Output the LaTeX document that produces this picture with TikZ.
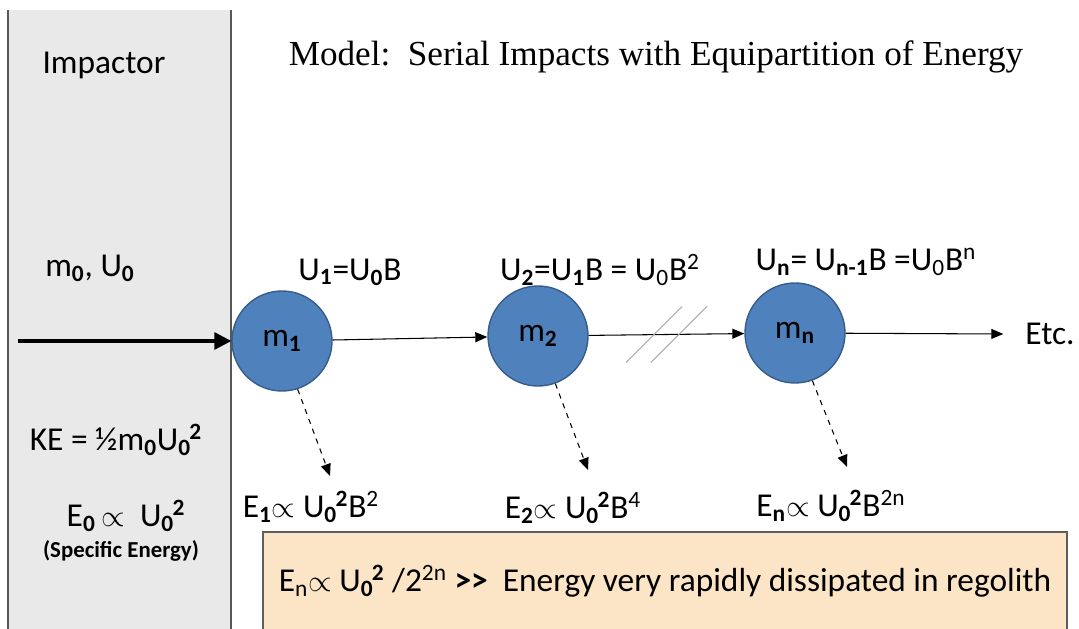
\documentclass[tikz,border=0pt]{standalone}
\usepackage{fontspec}
\setmainfont{Carlito}
\newfontfamily\titlefont{Liberation Serif}
\usepackage{tikz}
\usetikzlibrary{arrows.meta, positioning}
\definecolor{panelGray}{HTML}{E9E9E9}
\definecolor{panelEdge}{HTML}{585858}
\definecolor{ballBlue}{HTML}{4F81BD}
\definecolor{ballEdge}{HTML}{385D8A}
\definecolor{boxFill}{HTML}{FBE5C6}
\definecolor{boxEdge}{HTML}{5E5E5E}
% subscript followed by a superscript
\newcommand{\ud}[2]{\textsubscript{#1}\kern-0.05em\textsuperscript{#2}}

\begin{document}
\begin{tikzpicture}[
  x=0.2mm, y={(0,-0.2mm)},
  font=\fontsize{19}{23}\selectfont,
  ball/.style={circle, draw=ballEdge, fill=ballBlue, thick, minimum size=20mm, inner sep=0pt},
  tag/.style={inner sep=1pt},
  sum/.style={draw=boxEdge, fill=boxFill, thick, minimum width=160.8mm, minimum height=21.6mm},
  a/.style={-{Triangle[length=2.4mm, width=2mm]}, semithick},
  af/.style={-{Triangle[length=2.4mm, width=2mm]}, dashed, semithick},
  push/.style={-{Triangle[length=3.4mm, width=3.4mm]}, line width=1.8pt},
  cut/.style={draw=gray!65, semithick}
]
\useasboundingbox (0,0) rectangle (1079,629);

% impactor panel
\fill[panelGray] (8,10) rectangle (231,640);
\draw[panelEdge, thick] (8,10) -- (8,640) (231,10) -- (231,640);

\node[tag, font=\titlefont\fontsize{20}{24}\selectfont] (title) at (656,57)
  {Model:\ \ Serial Impacts with Equipartition of Energy};

\node[tag] (imp) at (104,65) {Impactor};
\node[tag] (m0) at (90,268) {m\textsubscript{\textbf{0}}, U\textsubscript{\textbf{0}}};
\node[tag] (ke) at (116,440) {KE = ½m\textsubscript{\textbf{0}}U\ud{\textbf{0}}{\textbf{2}}};
\node[tag] (e0) at (126,516) {E\textsubscript{\textbf{0}}\,$\propto$\ \ U\ud{\textbf{0}}{\textbf{2}}};
\node[tag, font=\fontsize{13}{15}\selectfont\bfseries] (spec) at (121,551) {(Specific Energy)};

% summary
\node[sum] (dissip) at (665,586)
  {\raisebox{3mm}{E\textsubscript{n}$\propto$ U\ud{\textbf{0}}{\textbf{2}} /2\textsuperscript{2n} \textbf{>{}>}\ \ Energy very rapidly dissipated in regolith}};

% impacted masses
\node[ball] (m1) at (282,341) {m\textsubscript{\textbf{1}}};
\node[ball] (m2) at (538,336) {m\textsubscript{\textbf{2}}};
\node[ball] (mn) at (795,333) {m\textsubscript{\textbf{n}}};
\node[tag] (etc) at (1050,334) {Etc.};

\node[tag] (u1) at (350,272) {U\textsubscript{\textbf{1}}=U\textsubscript{\textbf{0}}B};
\node[tag] (u2) at (600,270) {U\textsubscript{\textbf{2}}=U\textsubscript{\textbf{1}}B = U\textsubscript{0}B\textsuperscript{2}};
\node[tag] (un) at (866,262) {U\textsubscript{\textbf{n}}= U\textsubscript{\textbf{n-1}}B =U\textsubscript{0}B\textsuperscript{n}};

\node[tag] (e1) at (311,507) {E\textsubscript{\textbf{1}}$\propto$ U\ud{\textbf{0}}{\textbf{2}}B\textsuperscript{2}};
\node[tag] (e2) at (573,508) {E\textsubscript{\textbf{2}}$\propto$ U\ud{\textbf{0}}{\textbf{2}}B\textsuperscript{4}};
\node[tag] (en) at (831,506) {E\textsubscript{\textbf{n}}$\propto$ U\ud{\textbf{0}}{\textbf{2}}B\textsuperscript{2n}};

\coordinate (start) at (18,341);
\coordinate (t1) at (330,476);
\coordinate (t2) at (588,470);
\coordinate (tn) at (847,467);

\draw[push] (start) -- (m1.west);
\draw[a] (m1) -- (m2);
\draw[a] (m2) -- (mn) coordinate[pos=0.42] (cut1) coordinate[pos=0.58] (cut2);
\draw[a] (mn) -- ([xshift=-4mm]etc.west);
\draw[cut] ([shift={(-28,28)}]cut1) -- ([shift={(28,-28)}]cut1);
\draw[cut] ([shift={(-28,28)}]cut2) -- ([shift={(28,-28)}]cut2);

\draw[af] (m1.-72) -- (t1);
\draw[af] (m2.-70) -- (t2);
\draw[af] (mn.-70) -- (tn);

\end{tikzpicture}
\end{document}
